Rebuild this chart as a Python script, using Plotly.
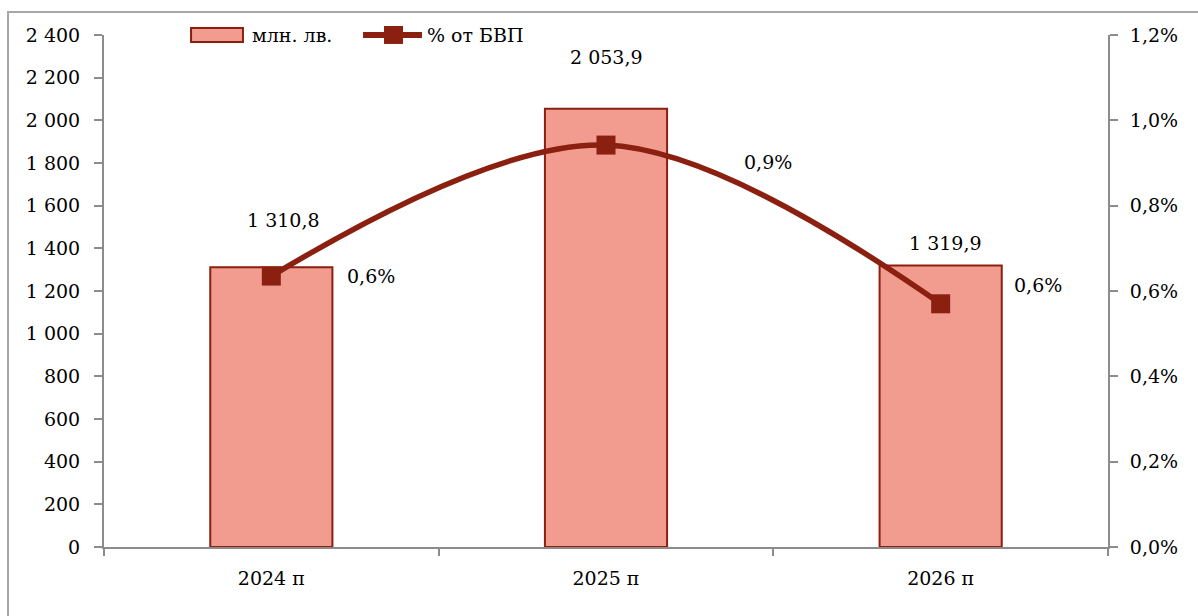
import plotly.graph_objects as go

categories = ["2024 п", "2025 п", "2026 п"]
bar_values = [1310.8, 2053.9, 1319.9]
bar_labels = ["1 310,8", "2 053,9", "1 319,9"]
pct_values = [0.635, 0.942, 0.570]
pct_labels = ["0,6%", "0,9%", "0,6%"]
left_ticks = [0, 200, 400, 600, 800, 1000, 1200, 1400, 1600, 1800, 2000, 2200, 2400]
left_ticktext = ["0", "200", "400", "600", "800", "1 000", "1 200", "1 400", "1 600", "1 800", "2 000", "2 200", "2 400"]
right_ticks = [0, 0.2, 0.4, 0.6, 0.8, 1.0, 1.2]
right_ticktext = ["0,0%", "0,2%", "0,4%", "0,6%", "0,8%", "1,0%", "1,2%"]
series_names = ["млн. лв.", "% от БВП"]

FONT = "DejaVu Serif"
FS = 19
BAR_FILL = "#F19C8F"
DARK = "#8B1F10"
AXIS = "#8C8C8C"

fig = go.Figure()
fig.add_trace(go.Bar(
    x=categories, y=bar_values, name=series_names[0],
    marker=dict(color=BAR_FILL, line=dict(color=DARK, width=2)),
    width=0.365, yaxis="y", showlegend=False,
))
fig.add_trace(go.Scatter(
    x=categories, y=pct_values, name=series_names[1], yaxis="y2",
    mode="lines+markers",
    line=dict(color=DARK, width=5.5, shape="spline", smoothing=1.0),
    marker=dict(symbol="square", size=19, color=DARK), showlegend=False,
))

bar_shifts = [(12, 47), (0, 52), (5, 22)]
for c, v, t, (dx, dy) in zip(categories, bar_values, bar_labels, bar_shifts):
    fig.add_annotation(x=c, y=v, yref="y", text=t, showarrow=False,
                       xshift=dx, yshift=dy, font=dict(family=FONT, size=FS, color="#000"))
pct_shifts = [(100, 0), (162, -17), (97, 19)]
for c, v, t, (dx, dy) in zip(categories, pct_values, pct_labels, pct_shifts):
    fig.add_annotation(x=c, y=v, yref="y2", text=t, showarrow=False,
                       xshift=dx, yshift=dy, font=dict(family=FONT, size=FS, color="#000"))

# chart border
fig.add_shape(type="rect", xref="paper", yref="paper",
              x0=-0.0956, x1=1.2, y0=-0.3, y1=1.0449,
              line=dict(color="#A6A6A6", width=2), fillcolor="rgba(0,0,0,0)", layer="below")

# legend (drawn manually to match the wide swatch)
fig.add_shape(type="rect", xref="paper", yref="paper",
              x0=0.0867, x1=0.1384, y0=0.9863, y1=1.0137,
              line=dict(color=DARK, width=2), fillcolor=BAR_FILL)
fig.add_annotation(xref="paper", yref="paper", x=0.1454, y=1.0, xanchor="left", yanchor="middle",
                   text=series_names[0], showarrow=False, font=dict(family=FONT, size=FS, color="#000"))
fig.add_shape(type="line", xref="paper", yref="paper",
              x0=0.258, x1=0.3167, y0=1.0, y1=1.0, line=dict(color=DARK, width=6))
fig.add_shape(type="rect", xref="paper", yref="paper",
              x0=0.2789, x1=0.2978, y0=0.9825, y1=1.0176,
              line=dict(color=DARK, width=0), fillcolor=DARK)
fig.add_annotation(xref="paper", yref="paper", x=0.3197, y=1.0, xanchor="left", yanchor="middle",
                   text=series_names[1], showarrow=False, font=dict(family=FONT, size=FS, color="#000"))

fig.update_layout(
    width=1198, height=616,
    margin=dict(l=104, r=90, t=35, b=69, autoexpand=False),
    paper_bgcolor="white", plot_bgcolor="white",
    font=dict(family=FONT, size=FS, color="#000"),
    showlegend=False,
    xaxis=dict(showline=True, linecolor=AXIS, linewidth=2, ticks="outside",
               tickson="boundaries", ticklen=7, tickcolor=AXIS, tickwidth=2,
               showgrid=False, zeroline=False, ticklabelstandoff=13),
    yaxis=dict(range=[0, 2400], tickvals=left_ticks, ticktext=left_ticktext,
               showline=True, linecolor=AXIS, linewidth=2, ticks="outside",
               ticklen=8, tickcolor=AXIS, tickwidth=2, showgrid=False, zeroline=False,
               ticklabelstandoff=10),
    yaxis2=dict(range=[0, 1.2], tickvals=right_ticks, ticktext=right_ticktext,
                overlaying="y", side="right",
                showline=True, linecolor=AXIS, linewidth=2, ticks="outside",
                ticklen=8, tickcolor=AXIS, tickwidth=2, showgrid=False, zeroline=False,
                ticklabelstandoff=8),
)

fig.write_html("out.html", config={"displayModeBar": False},
               post_script="document.body.style.margin='0';document.body.style.overflow='hidden';")
